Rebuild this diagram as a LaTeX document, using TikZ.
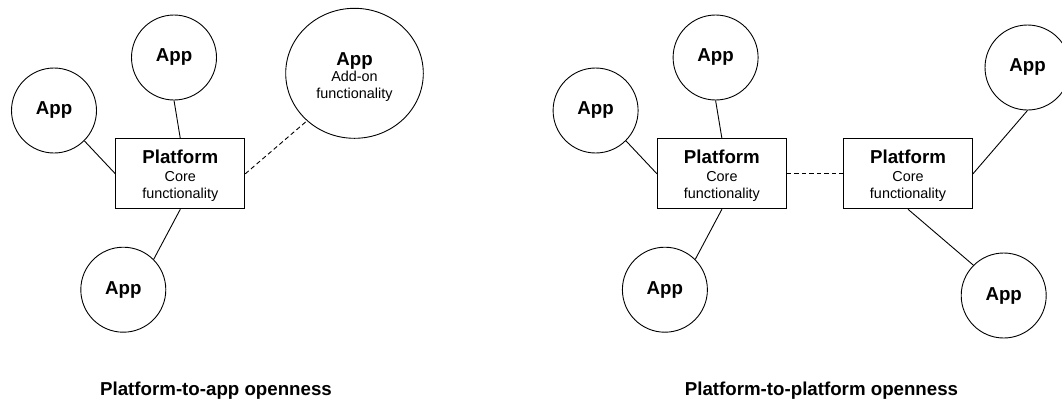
\documentclass[tikz,border=0pt]{standalone}
\usepackage{fontspec}
\setmainfont{Liberation Sans}
\usetikzlibrary{shapes.geometric}
\begin{document}
\begin{tikzpicture}[x=1pt,y=-1pt,
  app/.style={draw, circle, minimum size=85pt, inner sep=0pt, line width=0.9pt,
    font=\fontsize{18.7}{22}\selectfont\bfseries},
  plat/.style={draw, rectangle, minimum width=129pt, minimum height=70pt, inner sep=0pt,
    align=center, line width=0.9pt, font=\fontsize{14.4}{16.7}\selectfont},
  big/.style={draw, ellipse, minimum width=137.6pt, minimum height=130pt, inner sep=0pt,
    align=center, line width=0.9pt, font=\fontsize{14.4}{16.7}\selectfont},
  link/.style={line width=0.9pt},
  dlink/.style={line width=0.9pt, dash pattern=on 4.5pt off 3pt},
  captiontext/.style={font=\fontsize{18.7}{22}\selectfont\bfseries, anchor=base, inner sep=0pt}]
\useasboundingbox (0,0) rectangle (1062,400);

% Left diagram
\node[app] (a1) at (54,110.5) {App};
\node[app] (a2) at (174,57.5) {App};
\node[plat] (p) at (180.3,173.8) {{\fontsize{18.7}{18.7}\selectfont\bfseries\rule{0pt}{17pt}Platform}\\[1.7pt]Core\\functionality};
\node[app] (a3) at (123.3,289.7) {App};
\node[big] (a4) at (354.5,73.3) {{\fontsize{18.7}{18.7}\selectfont\bfseries\rule{0pt}{20pt}App}\\Add-on\\functionality};
\draw[link] (a1.-45) -- (p.west);
\draw[link] (a2.south) -- (p.north);
\draw[link] (a3.45) -- (p.south);
\draw[dlink] (p.east) -- (a4.225);
\node[captiontext] (c1) at (216,395) {Platform-to-app openness};

% Right diagram
\node[app] (a5) at (595.6,110.5) {App};
\node[app] (a6) at (715.6,57.5) {App};
\node[plat] (p2) at (721.9,173.8) {{\fontsize{18.7}{18.7}\selectfont\bfseries\rule{0pt}{17pt}Platform}\\[1.7pt]Core\\functionality};
\node[app] (a7) at (664.9,289.7) {App};
\node[plat] (p3) at (908,173.8) {{\fontsize{18.7}{18.7}\selectfont\bfseries\rule{0pt}{17pt}Platform}\\[1.7pt]Core\\functionality};
\node[app] (a8) at (1027.5,67.5) {App};
\node[app] (a9) at (1003.7,295.5) {App};
\draw[link] (a5.-45) -- (p2.west);
\draw[link] (a6.south) -- (p2.north);
\draw[link] (a7.45) -- (p2.south);
\draw[dlink] (p2.east) -- (p3.west);
\draw[link] (p3.east) -- (a8.south);
\draw[link] (p3.south) -- (a9.135);
\node[captiontext] (c2) at (821.5,395) {Platform-to-platform openness};
\end{tikzpicture}
\end{document}
